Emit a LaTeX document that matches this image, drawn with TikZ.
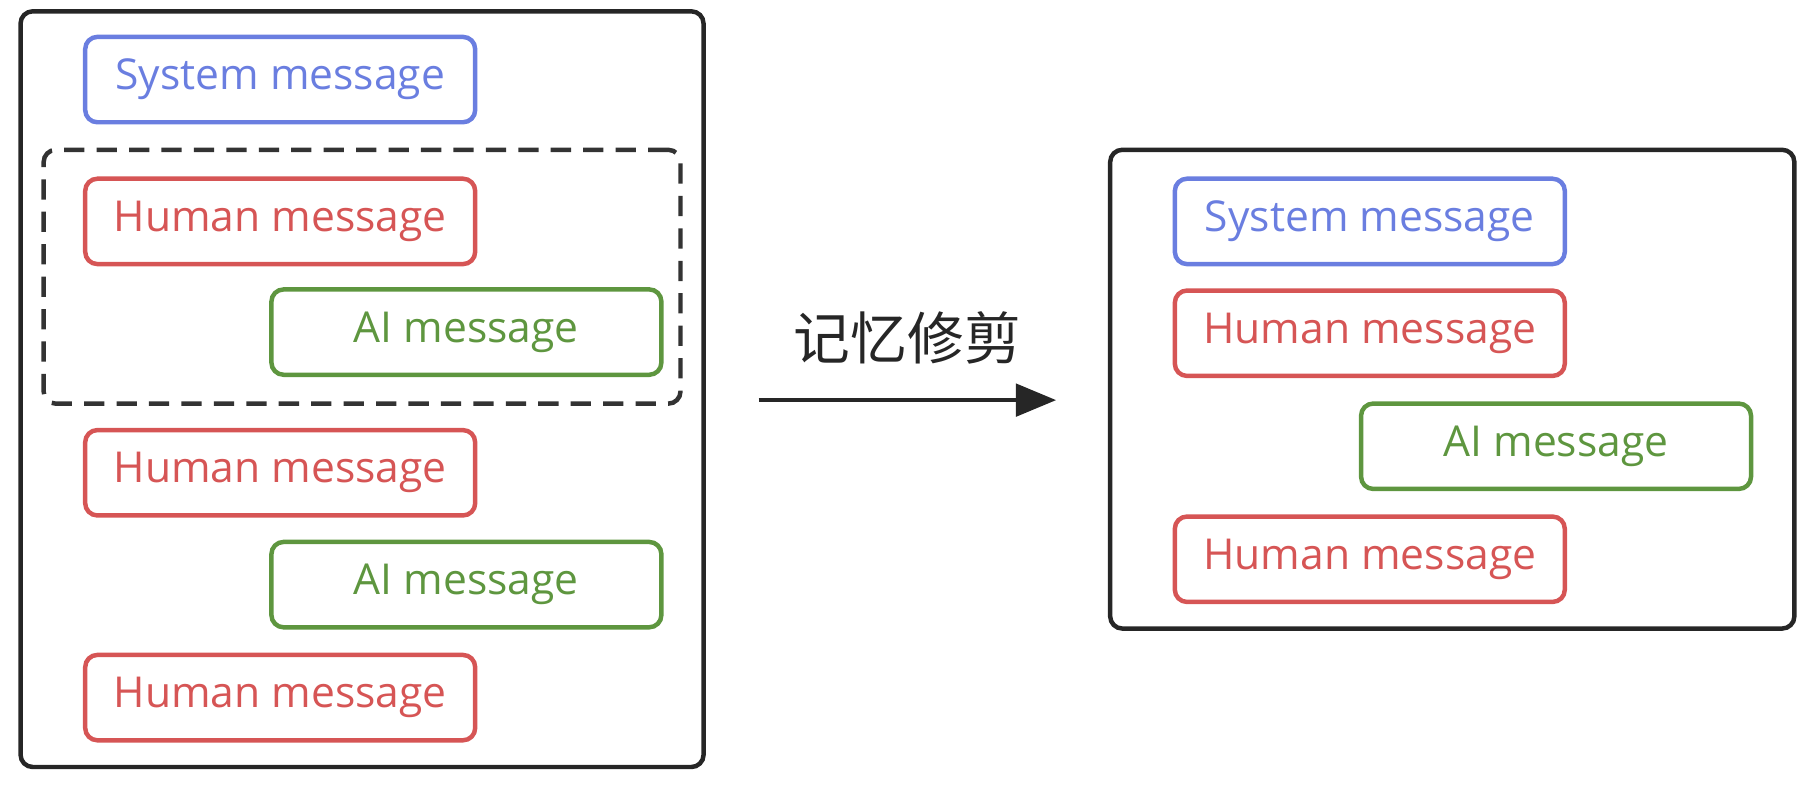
\documentclass[tikz,border=0pt]{standalone}
\usepackage{fontspec}
\setmainfont{Open Sans}
\newfontfamily\cjk{Noto Sans CJK SC}
\usetikzlibrary{arrows.meta}
\definecolor{sysblue}{HTML}{6A7EE0}
\definecolor{humred}{HTML}{D65555}
\definecolor{aigreen}{HTML}{5E963F}
\tikzset{
  msg/.style={rectangle, rounded corners=3pt, line width=1.1pt, minimum width=3.38cm, minimum height=0.74cm, font=\fontsize{10.5}{12}\selectfont},
  sys/.style={msg, draw=sysblue, text=sysblue},
  hum/.style={msg, draw=humred, text=humred},
  ai/.style={msg, draw=aigreen, text=aigreen},
  frame/.style={rectangle, draw=black!85, rounded corners=3pt, line width=1.1pt}
}
\begin{document}
\begin{tikzpicture}[x=0.01cm, y=-0.01cm]
         \useasboundingbox (0,0) rectangle (1568,684);

         \node [frame, minimum width=5.92cm, minimum height=6.55cm] (left) at (314,337.5) {};
         \node [rectangle, draw=black!80, dashed, dash pattern=on 5pt off 3pt, rounded corners=3pt, line width=1.1pt, minimum width=5.52cm, minimum height=2.2cm] (window) at (314,240) {};

         \node [sys] (system)  at (243,69)   {System message};
         \node [hum] (human1)  at (243,192)  {Human message};
         \node [ai]  (ai1)     at (404.5,288) {AI message};
         \node [hum] (human2)  at (243,410)  {Human message};
         \node [ai]  (ai2)     at (404.5,507) {AI message};
         \node [hum] (human3)  at (243,605)  {Human message};

         \node [frame, minimum width=5.93cm, minimum height=4.15cm] (right) at (1259.5,337.5) {};

         \node [sys] (rsystem) at (1188,192)  {System message};
         \node [hum] (rhuman1) at (1188,289)  {Human message};
         \node [ai]  (rai)     at (1349.5,387) {AI message};
         \node [hum] (rhuman2) at (1188,485)  {Human message};

         \coordinate (from) at (658,347);
         \coordinate (to)   at (916,347);
         \draw [line width=1.1pt, black!85, -{Triangle[length=3.5mm, width=2.8mm]}] (from) -- node[above=5pt, font=\cjk\fontsize{14}{16}\selectfont, text=black!85]{记忆修剪} (to);
\end{tikzpicture}
\end{document}
